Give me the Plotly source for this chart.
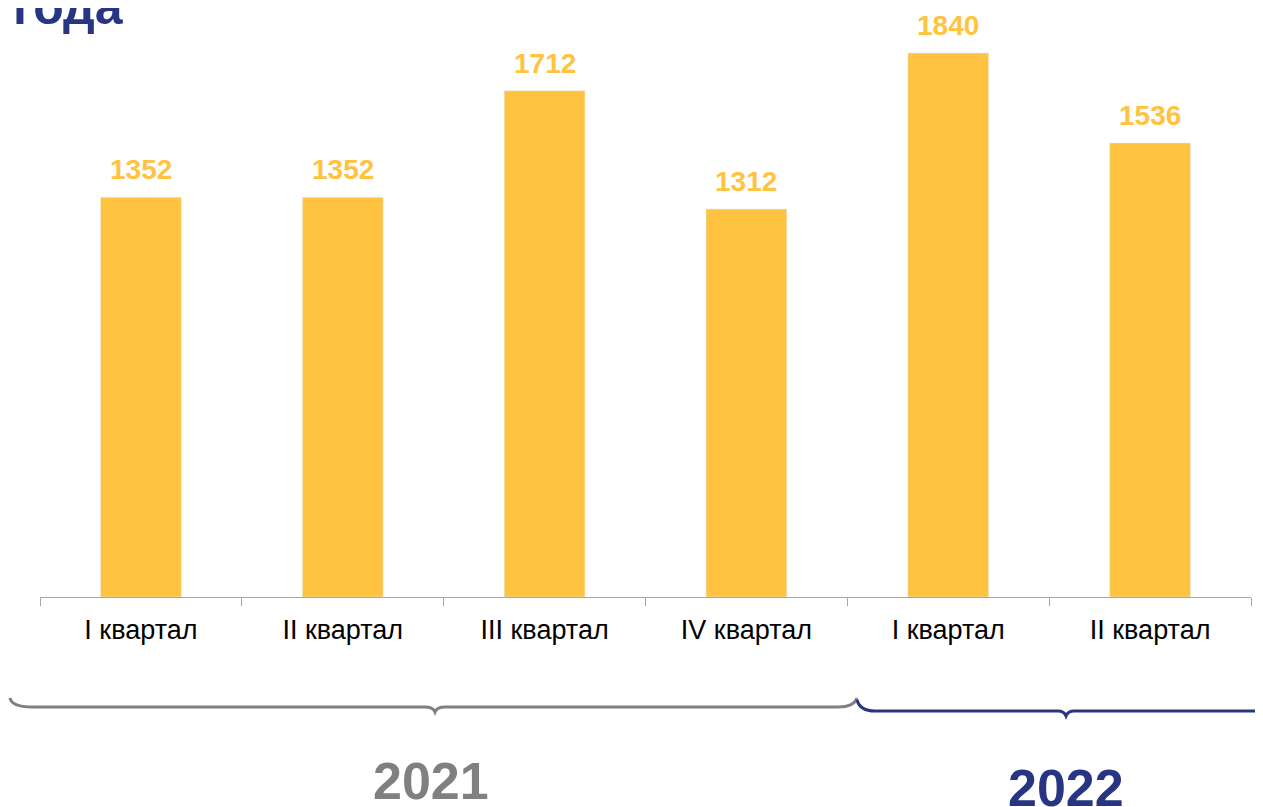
import plotly.graph_objects as go

categories = ["I квартал", "II квартал", "III квартал", "IV квартал", "I квартал ", "II квартал "]
tick_labels = ["I квартал", "II квартал", "III квартал", "IV квартал", "I квартал", "II квартал"]
values = [1352, 1352, 1712, 1312, 1840, 1536]
years = ["2021", "2022"]

# page body has an 8px margin; work in screen pixels and convert
O = 8
W, H = 1255, 799
L, R, T = 32, 12, 0
ZERO = 589            # figure-pixel y of the axis line
B = H - ZERO
PW, PH = W - L - R, ZERO - T

def px(sx):
    return (sx - O - L) / PW

def py(sy):
    return (ZERO - (sy - O)) / PH

BAR = "#FFC33F"
BLUE = "#283583"
GRAY = "#808080"
FONT = "Arial, Liberation Sans"

fig = go.Figure()
fig.add_trace(go.Bar(x=categories, y=values, marker_color=BAR, width=0.4, hoverinfo="skip"))

for c, v in zip(categories, values):
    fig.add_annotation(x=c, y=v, xref="x", yref="y", text=f"<b>{v}</b>", showarrow=False,
                       yanchor="bottom", yshift=10,
                       font=dict(family=FONT, size=28, color=BAR))

# title fragment (cut at top)
fig.add_annotation(x=px(11), y=py(-23), xref="paper", yref="paper", xanchor="left", yanchor="top",
                   text="<b>года</b>", showarrow=False,
                   font=dict(family=FONT, size=50, color=BLUE))

# brackets
g = (f"M {px(10)},{py(698)} Q {px(12)},{py(707)} {px(32)},{py(707)} "
     f"L {px(425)},{py(707)} Q {px(433)},{py(707)} {px(435)},{py(712)} "
     f"Q {px(437)},{py(707)} {px(445)},{py(707)} L {px(838)},{py(707)} "
     f"Q {px(854)},{py(707)} {px(857)},{py(698)}")
fig.add_shape(type="path", path=g, xref="paper", yref="paper", line=dict(color=GRAY, width=3))
b = (f"M {px(857)},{py(700)} Q {px(860)},{py(711)} {px(875)},{py(711)} "
     f"L {px(1058)},{py(711)} Q {px(1064)},{py(711)} {px(1066)},{py(716)} "
     f"Q {px(1068)},{py(711)} {px(1074)},{py(711)} L {px(1266)},{py(711)}")
fig.add_shape(type="path", path=b, xref="paper", yref="paper", line=dict(color=BLUE, width=3))

fig.add_annotation(x=px(431), y=py(781), xref="paper", yref="paper", xanchor="center", yanchor="middle",
                   text=f"<b>{years[0]}</b>",
                   showarrow=False, font=dict(family=FONT, size=52, color=GRAY))
fig.add_annotation(x=px(1066), y=py(788), xref="paper", yref="paper", xanchor="center", yanchor="middle",
                   text=f"<b>{years[1]}</b>",
                   showarrow=False, font=dict(family=FONT, size=52, color=BLUE))

fig.update_layout(
    width=W, height=H, margin=dict(l=L, r=R, t=T, b=B),
    paper_bgcolor="white", plot_bgcolor="white", showlegend=False,
    xaxis=dict(tickmode="array", tickvals=categories, ticktext=tick_labels,
               tickson="boundaries", ticks="outside", ticklen=8, tickcolor="#A6A6A6",
               showline=True, linecolor="#A6A6A6", linewidth=1, showgrid=False,
               ticklabelstandoff=9,
               tickfont=dict(family=FONT, size=27, color="black")),
    yaxis=dict(range=[0, 589 * 1840 / 544], visible=False, showgrid=False),
)

fig.write_html("out.html")
